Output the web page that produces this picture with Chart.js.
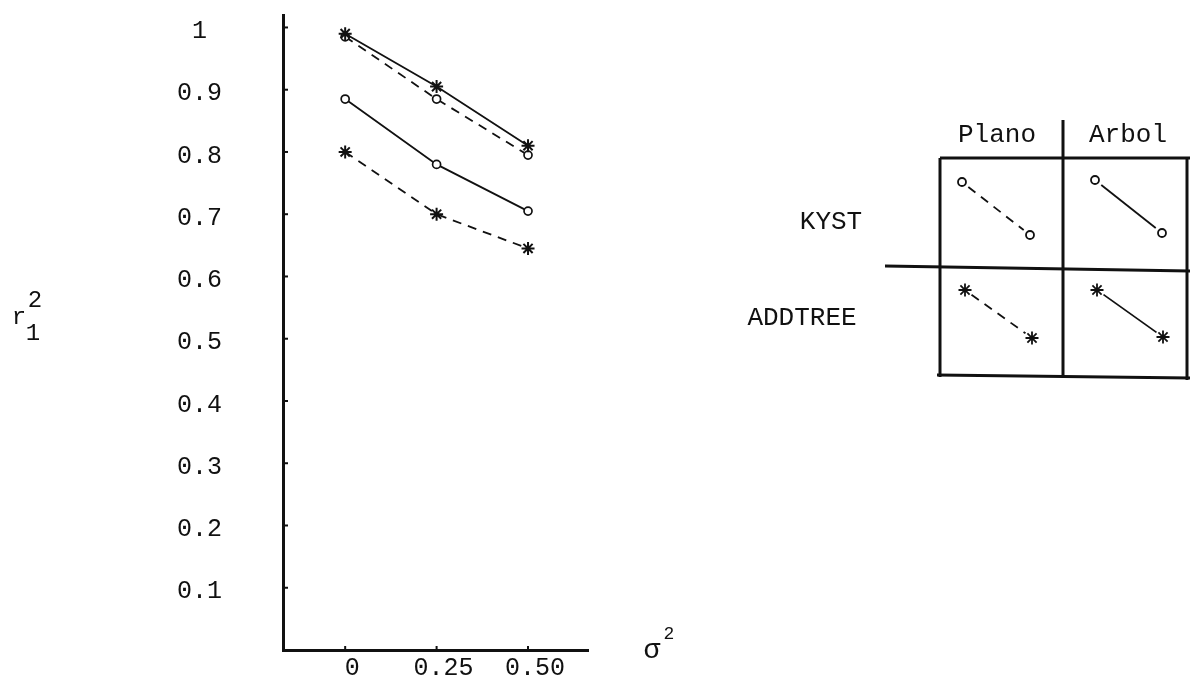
<!DOCTYPE html>
<html>
<head>
<meta charset="utf-8">
<script src="https://cdn.jsdelivr.net/npm/chart.js@4.4.1/dist/chart.umd.min.js"></script>
<style>
  html, body { margin: 0; padding: 0; background: #fff; }
</style>
</head>
<body>
<canvas id="chart" width="1190" height="691"></canvas>
<script>
// Datos
const sigma2 = [0, 0.25, 0.5];
const xTickLabels = ['0', '0.25', '0.50'];
const yTickValues = [0.1, 0.2, 0.3, 0.4, 0.5, 0.6, 0.7, 0.8, 0.9, 1];
const yTickLabels = ['0.1', '0.2', '0.3', '0.4', '0.5', '0.6', '0.7', '0.8', '0.9', '1'];

const addtreeArbol = [0.99, 0.905, 0.81];   // * continua
const kystPlano    = [0.985, 0.885, 0.795]; // o discontinua
const kystArbol    = [0.885, 0.78, 0.705];  // o continua
const addtreePlano = [0.80, 0.70, 0.645];   // * discontinua

const ink = '#111';
const FONT = "'Liberation Mono', 'Courier New', monospace";
const DASH = [9, 7];
const R_STAR = 6.5, R_CIRC = 4;

const pts = arr => arr.map((v, i) => ({ x: sigma2[i], y: v }));

function serie(data, estilo, dashed) {
  const star = estilo === 'star';
  return {
    data: pts(data),
    borderColor: ink,
    borderWidth: 1.8,
    borderDash: dashed ? DASH : [],
    pointStyle: estilo,
    pointRadius: star ? R_STAR : R_CIRC,
    pointBorderWidth: star ? 2 : 1.7,
    pointBorderColor: ink,
    pointBackgroundColor: '#fff',
    fill: false,
    tension: 0
  };
}

// Ejes, rótulos y tabla de leyenda
const extras = {
  id: 'extras',
  afterDraw(chart) {
    const ctx = chart.ctx;
    const area = chart.chartArea;
    const xs = chart.scales.x, ys = chart.scales.y;
    ctx.save();
    ctx.strokeStyle = ink;
    ctx.fillStyle = ink;

    // marcas pequeñas hacia dentro
    ctx.lineWidth = 2;
    ys.ticks.forEach(t => {
      const y = ys.getPixelForValue(t.value);
      ctx.beginPath(); ctx.moveTo(area.left, y); ctx.lineTo(area.left + 5, y); ctx.stroke();
    });
    xs.ticks.forEach(t => {
      const x = xs.getPixelForValue(t.value);
      ctx.beginPath(); ctx.moveTo(x, area.bottom); ctx.lineTo(x, area.bottom - 4); ctx.stroke();
    });

    // r1^2
    ctx.textAlign = 'center';
    ctx.textBaseline = 'middle';
    ctx.font = '24px ' + FONT;
    ctx.fillText('r', 19, 318);
    ctx.fillText('2', 35, 301);
    ctx.fillText('1', 33, 334);

    // sigma^2
    ctx.font = '28px ' + FONT;
    ctx.fillText('σ', 652, 651);
    ctx.font = '18px ' + FONT;
    ctx.fillText('2', 669, 634);

    // tabla
    ctx.font = '26px ' + FONT;
    ctx.fillText('Plano', 997, 135);
    ctx.fillText('Arbol', 1128, 135);
    ctx.fillText('KYST', 831, 222);
    ctx.fillText('ADDTREE', 802, 318);

    ctx.lineWidth = 3;
    const seg = (x1, y1, x2, y2) => { ctx.beginPath(); ctx.moveTo(x1, y1); ctx.lineTo(x2, y2); ctx.stroke(); };
    seg(1063, 120, 1063, 378);
    seg(940, 158, 940, 377);
    seg(1187, 158, 1187, 380);
    seg(940, 158, 1190, 158);
    seg(885, 266, 1190, 271);
    seg(937, 375, 1190, 378);

    // muestras
    ctx.lineWidth = 1.8;
    const muestra = (x1, y1, x2, y2, dashed, estilo) => {
      ctx.setLineDash(dashed ? DASH : []);
      const dx = x2 - x1, dy = y2 - y1, L = Math.hypot(dx, dy), g = 8;
      seg(x1 + dx * g / L, y1 + dy * g / L, x2 - dx * g / L, y2 - dy * g / L);
      ctx.setLineDash([]);
      [[x1, y1], [x2, y2]].forEach(([x, y]) => {
        Chart.helpers.drawPoint(ctx, {
          pointStyle: estilo,
          radius: estilo === 'star' ? R_STAR : R_CIRC,
          borderWidth: estilo === 'star' ? 2 : 1.7
        }, x, y);
      });
    };
    ctx.fillStyle = '#fff';
    muestra(962, 182, 1030, 235, true, 'circle');
    muestra(1095, 180, 1162, 233, false, 'circle');
    muestra(965, 290, 1032, 338, true, 'star');
    muestra(1097, 290, 1163, 337, false, 'star');
    ctx.restore();
  }
};

new Chart(document.getElementById('chart'), {
  type: 'line',
  data: {
    datasets: [
      serie(addtreeArbol, 'star', false),
      serie(kystPlano, 'circle', true),
      serie(kystArbol, 'circle', false),
      serie(addtreePlano, 'star', true)
    ]
  },
  options: {
    responsive: false,
    animation: false,
    devicePixelRatio: 1,
    layout: { padding: { left: 0, right: 602, top: 15, bottom: 0 } },
    plugins: { legend: { display: false }, tooltip: { enabled: false } },
    scales: {
      x: {
        type: 'linear',
        min: -0.17,
        max: 0.664,
        afterBuildTicks: s => { s.ticks = sigma2.map(v => ({ value: v })); },
        afterFit: s => { s.height = 41; s.paddingLeft = 0; s.paddingRight = 0; },
        grid: { display: true, drawOnChartArea: false, drawTicks: false },
        border: { display: true, color: ink, width: 3 },
        ticks: {
          color: ink,
          font: { family: FONT, size: 25 },
          padding: 3,
          labelOffset: 7,
          maxRotation: 0,
          autoSkip: false,
          callback: (v, i) => xTickLabels[i]
        }
      },
      y: {
        min: 0,
        max: 1.02,
        afterBuildTicks: s => { s.ticks = yTickValues.map(v => ({ value: v })); },
        afterFit: s => { s.width = 283; s.paddingTop = 0; s.paddingBottom = 0; },
        grid: { display: true, drawOnChartArea: false, drawTicks: false },
        border: { display: true, color: ink, width: 3 },
        ticks: {
          color: ink,
          font: { family: FONT, size: 25 },
          padding: 61,
          labelOffset: 4,
          autoSkip: false,
          callback: (v, i) => yTickLabels[i] === '1' ? '1 ' : yTickLabels[i]
        }
      }
    }
  },
  plugins: [extras]
});
</script>
</body>
</html>
